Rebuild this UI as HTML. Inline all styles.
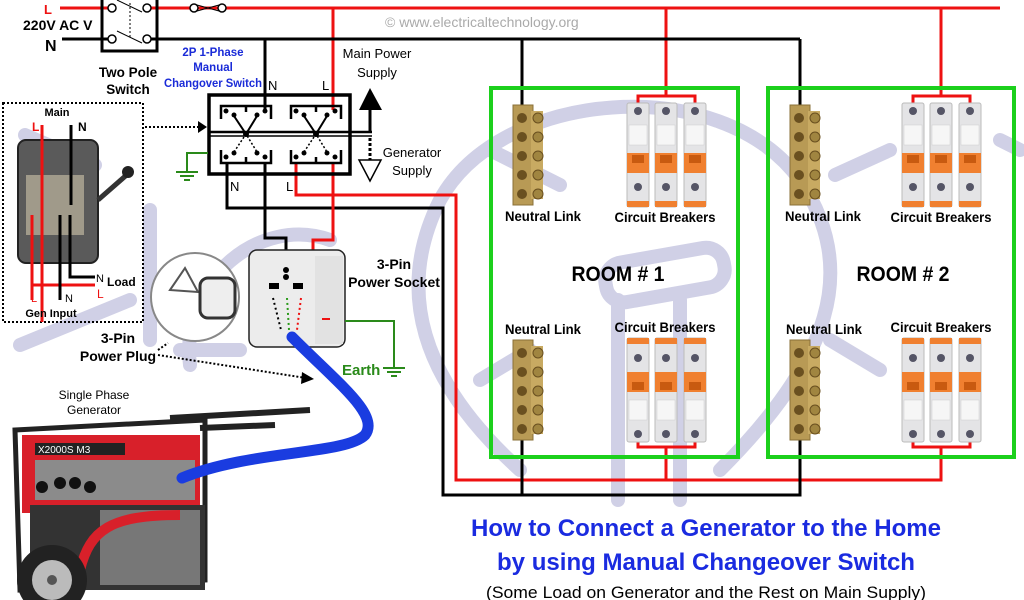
<!DOCTYPE html>
<html><head><meta charset="utf-8"><style>
html,body{margin:0;padding:0;background:#fff;}
svg{display:block;font-family:"Liberation Sans",Arial,sans-serif;}
</style></head><body>
<svg width="1024" height="600" viewBox="0 0 1024 600" xmlns="http://www.w3.org/2000/svg">
<defs>
<g id="brk">
 <rect x="-11" y="0" width="22" height="104" rx="2" fill="#e4e4e6" stroke="#bbb"/>
 <circle cx="0" cy="8" r="4" fill="#556"/>
 <rect x="-9" y="22" width="18" height="20" fill="#f6f6f6" stroke="#ccc" stroke-width="0.5"/>
 <rect x="-11" y="50" width="22" height="20" fill="#f08030"/>
 <rect x="-6" y="52" width="12" height="8" fill="#c85a10"/>
 <circle cx="0" cy="84" r="4" fill="#556"/>
 <rect x="-11" y="98" width="22" height="6" fill="#f08030"/>
</g>
<g id="nl">
 <rect x="0" y="0" width="20" height="100" fill="#b89a55" stroke="#8a7038"/>
 <rect x="18" y="6" width="12" height="88" fill="#c8aa62"/>
 <g fill="#6a5020"><circle cx="9" cy="13" r="5"/><circle cx="9" cy="32" r="5"/><circle cx="9" cy="51" r="5"/><circle cx="9" cy="70" r="5"/><circle cx="9" cy="89" r="5"/></g>
 <g fill="#a08540" stroke="#6a5020"><circle cx="25" cy="13" r="5"/><circle cx="25" cy="32" r="5"/><circle cx="25" cy="51" r="5"/><circle cx="25" cy="70" r="5"/><circle cx="25" cy="89" r="5"/></g>
</g>
</defs>

<!-- watermark -->
<g stroke="#d0d0e6" stroke-width="14" fill="none" stroke-linecap="round">
 <path d="M520 470 C420 380 395 290 440 200 C500 90 720 70 800 180 C860 270 830 360 720 470"/>
 <path d="M190 365 C180 280 260 215 330 240"/>
 <line x1="25" y1="135" x2="95" y2="165"/><line x1="20" y1="345" x2="130" y2="300"/>
 <line x1="490" y1="150" x2="560" y2="185"/><line x1="480" y1="380" x2="530" y2="350"/>
 <line x1="835" y1="175" x2="890" y2="150"/><line x1="830" y1="340" x2="880" y2="370"/>
 <line x1="1000" y1="140" x2="1020" y2="150"/>
 <rect x="605" y="255" width="120" height="40" rx="18" transform="rotate(-10 665 275)"/>
 <line x1="618" y1="300" x2="618" y2="500"/><line x1="680" y1="300" x2="680" y2="500"/>
 <line x1="150" y1="210" x2="150" y2="340"/><line x1="180" y1="350" x2="240" y2="350"/>
</g>

<text x="385" y="27" font-size="14" fill="#aaa">© www.electricaltechnology.org</text>

<!-- main lines -->
<g fill="none" stroke-width="3">
 <polyline points="60,8 112,8" stroke="#e11"/>
 <polyline points="147,8 1000,8" stroke="#e11"/>
 <line x1="333" y1="8" x2="333" y2="110" stroke="#e11"/>
 <line x1="666" y1="8" x2="666" y2="96" stroke="#e11"/>
 <line x1="941" y1="8" x2="941" y2="96" stroke="#e11"/>
 <line x1="62" y1="39" x2="112" y2="39" stroke="#000"/>
 <line x1="147" y1="39" x2="800" y2="39" stroke="#000"/>
 <line x1="265" y1="39" x2="265" y2="110" stroke="#000"/>
 <line x1="522" y1="39" x2="522" y2="105" stroke="#000"/>
 <line x1="800" y1="39" x2="800" y2="105" stroke="#000"/>
 <polyline points="638,104 638,96 695,96 695,104" stroke="#e11"/>
 <polyline points="913,104 913,96 970,96 970,104" stroke="#e11"/>
 <polyline points="638,440 638,447 695,447 695,440" stroke="#e11"/>
 <polyline points="913,440 913,447 970,447 970,440" stroke="#e11"/>
 <line x1="666" y1="447" x2="666" y2="480" stroke="#e11"/>
 <polyline points="296,163 296,195 456,195 456,480 941,480 941,447" stroke="#e11"/>
 <polyline points="227,163 227,208 443,208 443,495 800,495 800,440" stroke="#000"/>
 <line x1="522" y1="440" x2="522" y2="495" stroke="#000"/>
 <polyline points="265,163 265,238 286,238 286,252" stroke="#000"/>
 <polyline points="333,163 333,240 313,240 313,252" stroke="#e11"/>
</g>
<text x="44" y="14" font-size="13" font-weight="bold" fill="#e11">L</text>
<text x="23" y="30" font-size="14" font-weight="bold">220V AC V</text>
<text x="45" y="51" font-size="16" font-weight="bold">N</text>

<!-- two pole switch -->
<rect x="102" y="-2" width="55" height="53" fill="none" stroke="#000" stroke-width="3"/>
<g fill="#fff" stroke="#000" stroke-width="1.5">
 <circle cx="112" cy="8" r="4"/><circle cx="147" cy="8" r="4"/><circle cx="112" cy="39" r="4"/><circle cx="147" cy="39" r="4"/>
</g>
<line x1="117" y1="0" x2="142" y2="12" stroke="#000"/><line x1="117" y1="31" x2="142" y2="43" stroke="#000"/>
<line x1="130" y1="3" x2="130" y2="38" stroke="#000" stroke-dasharray="2,2"/>
<g fill="#fff" stroke="#000" stroke-width="1.5"><circle cx="194" cy="8" r="4"/><circle cx="222" cy="8" r="4"/></g>
<path d="M197 5 L219 11 M197 11 L219 5" stroke="#000" fill="none"/>
<text x="128" y="77" font-size="13.5" font-weight="bold" text-anchor="middle">Two Pole</text>
<text x="128" y="94" font-size="13.5" font-weight="bold" text-anchor="middle">Switch</text>

<g font-size="11.5" font-weight="bold" fill="#1a2bd8" text-anchor="middle">
 <text x="213" y="56">2P 1-Phase</text><text x="213" y="71">Manual</text><text x="213" y="87" textLength="98" lengthAdjust="spacingAndGlyphs">Changover Switch</text>
</g>
<text x="268" y="90" font-size="13">N</text><text x="322" y="90" font-size="13">L</text>
<text x="377" y="58" font-size="13" text-anchor="middle">Main Power</text>
<text x="377" y="77" font-size="13" text-anchor="middle">Supply</text>
<text x="412" y="157" font-size="13" text-anchor="middle">Generator</text>
<text x="412" y="175" font-size="13" text-anchor="middle">Supply</text>

<!-- changeover -->
<rect x="209" y="95" width="141" height="79" fill="none" stroke="#000" stroke-width="3.5"/>
<line x1="209" y1="132" x2="372" y2="132" stroke="#000" stroke-width="2.5"/>
<line x1="209" y1="136" x2="372" y2="136" stroke="#000" stroke-width="1.5"/>
<line x1="370" y1="132" x2="370" y2="108" stroke="#000" stroke-width="3"/>
<polygon points="359,110 370,88 382,110" fill="#000"/>
<line x1="370" y1="138" x2="370" y2="160" stroke="#000" stroke-width="3" stroke-dasharray="3,2"/>
<polygon points="359,160 381,160 370,181" fill="#fff" stroke="#000" stroke-width="1.5"/>
<g fill="none" stroke="#000" stroke-width="2.5">
 <polyline points="221,119 221,106 271,106 271,119"/><line x1="246" y1="106" x2="246" y2="112"/>
 <polyline points="221,150 221,163 271,163 271,150"/><line x1="246" y1="163" x2="246" y2="157"/>
 <polyline points="291,119 291,106 341,106 341,119"/><line x1="316" y1="106" x2="316" y2="112"/>
 <polyline points="291,150 291,163 341,163 341,150"/><line x1="316" y1="163" x2="316" y2="157"/>
</g>
<path d="M234 116 L246 134 L257 116 M304 116 L316 134 L327 116" stroke="#000" stroke-width="2" fill="none"/>
<path d="M234 152 L246 134 L257 152 M304 152 L316 134 L327 152" stroke="#000" stroke-width="1.5" stroke-dasharray="2,2" fill="none"/>
<g fill="#000"><circle cx="226" cy="111" r="2.5"/><circle cx="234" cy="115" r="2.5"/><circle cx="257" cy="115" r="2.5"/><circle cx="265" cy="111" r="2.5"/>
<circle cx="296" cy="111" r="2.5"/><circle cx="304" cy="115" r="2.5"/><circle cx="327" cy="115" r="2.5"/><circle cx="335" cy="111" r="2.5"/>
<circle cx="226" cy="157" r="2.5"/><circle cx="234" cy="153" r="2.5"/><circle cx="257" cy="153" r="2.5"/><circle cx="265" cy="157" r="2.5"/>
<circle cx="296" cy="157" r="2.5"/><circle cx="304" cy="153" r="2.5"/><circle cx="327" cy="153" r="2.5"/><circle cx="335" cy="157" r="2.5"/>
<circle cx="246" cy="134" r="3"/><circle cx="316" cy="134" r="3"/></g>
<text x="230" y="191" font-size="13">N</text><text x="286" y="191" font-size="13">L</text>
<polyline points="208,153 187,153 187,172" fill="none" stroke="#2a8a1a" stroke-width="2"/>
<g stroke="#2a8a1a" stroke-width="2"><line x1="176" y1="172" x2="198" y2="172"/><line x1="180" y1="176" x2="194" y2="176"/><line x1="184" y1="180" x2="190" y2="180"/></g>
<line x1="145" y1="127" x2="198" y2="127" stroke="#000" stroke-width="2" stroke-dasharray="2,2"/>
<polygon points="198,121 207,127 198,133" fill="#000"/>

<!-- dotted box with load switch -->
<rect x="3" y="103" width="140" height="219" fill="none" stroke="#000" stroke-width="2" stroke-dasharray="2,2"/>
<text x="57" y="116" font-size="11" font-weight="bold" text-anchor="middle">Main</text>
<text x="32" y="131" font-size="12" font-weight="bold" fill="#e11">L</text>
<text x="78" y="131" font-size="12" font-weight="bold">N</text>
<rect x="18" y="140" width="80" height="123" rx="8" fill="#5a5a5a" stroke="#222" stroke-width="2"/>
<rect x="26" y="175" width="58" height="60" fill="#a09a8a"/>
<line x1="98" y1="200" x2="130" y2="172" stroke="#333" stroke-width="5"/><circle cx="128" cy="172" r="6" fill="#222"/>
<g fill="none" stroke-width="3">
 <line x1="42" y1="125" x2="42" y2="322" stroke="#e11"/>
 <line x1="71" y1="125" x2="71" y2="205" stroke="#000"/>
 <line x1="32" y1="215" x2="32" y2="300" stroke="#e11"/>
 <polyline points="33,285 95,285" stroke="#e11"/>
 <polyline points="70,215 70,277 95,277" stroke="#000"/>
 <line x1="60" y1="215" x2="60" y2="300" stroke="#000"/>
</g>
<text x="96" y="282" font-size="11">N</text><text x="107" y="286" font-size="12" font-weight="bold">Load</text>
<text x="97" y="298" font-size="12" fill="#e11">L</text>
<text x="31" y="302" font-size="11" fill="#e11">L</text><text x="65" y="302" font-size="11">N</text>
<text x="51" y="317" font-size="11" font-weight="bold" text-anchor="middle">Gen Input</text>

<!-- plug -->
<circle cx="195" cy="297" r="44" fill="#fff" stroke="#888" stroke-width="2"/>
<path d="M170 290 L185 268 L198 292 Z" fill="none" stroke="#555" stroke-width="2"/>
<rect x="200" y="278" width="35" height="40" rx="8" fill="#eee" stroke="#333" stroke-width="3"/>
<text x="118" y="343" font-size="14" font-weight="bold" text-anchor="middle">3-Pin</text>
<text x="118" y="361" font-size="14" font-weight="bold" text-anchor="middle">Power Plug</text>
<line x1="158" y1="355" x2="306" y2="378" stroke="#000" stroke-width="2" stroke-dasharray="2,2"/>
<polygon points="302,372 314,379 301,384" fill="#000"/>
<line x1="158" y1="350" x2="168" y2="343" stroke="#000" stroke-width="2" stroke-dasharray="2,2"/>

<!-- socket -->
<rect x="249" y="250" width="96" height="97" rx="8" fill="#ececec" stroke="#222" stroke-width="1.5"/>
<rect x="315" y="256" width="28" height="88" fill="#e2e2e2"/>
<circle cx="286" cy="270" r="3" fill="#000"/><circle cx="286" cy="277" r="3" fill="#000"/>
<rect x="269" y="283" width="10" height="6" fill="#000"/><rect x="293" y="283" width="10" height="6" fill="#000"/>
<line x1="273" y1="298" x2="281" y2="330" stroke="#000" stroke-width="2" stroke-dasharray="2,3"/>
<line x1="287" y1="298" x2="289" y2="330" stroke="#2a9a1a" stroke-width="2" stroke-dasharray="2,3"/>
<line x1="301" y1="298" x2="297" y2="330" stroke="#e11" stroke-width="2" stroke-dasharray="2,3"/>
<line x1="322" y1="319" x2="330" y2="319" stroke="#e11" stroke-width="2"/>
<text x="394" y="269" font-size="14" font-weight="bold" text-anchor="middle">3-Pin</text>
<text x="394" y="287" font-size="14" font-weight="bold" text-anchor="middle">Power Socket</text>
<polyline points="345,321 394,321 394,368" fill="none" stroke="#2a8a1a" stroke-width="2"/>
<g stroke="#2a8a1a" stroke-width="2"><line x1="383" y1="368" x2="405" y2="368"/><line x1="387" y1="372" x2="401" y2="372"/><line x1="391" y1="376" x2="397" y2="376"/></g>
<text x="342" y="375" font-size="15" font-weight="bold" fill="#2a8a1a">Earth</text>

<!-- generator -->
<text x="94" y="399" font-size="12" text-anchor="middle">Single Phase</text>
<text x="94" y="414" font-size="12" text-anchor="middle">Generator</text>
<g>
 <path d="M15 430 L205 420 L205 580 L20 590 Z" fill="none" stroke="#222" stroke-width="5"/>
 <line x1="170" y1="418" x2="310" y2="410" stroke="#222" stroke-width="6"/>
 <line x1="200" y1="428" x2="275" y2="425" stroke="#222" stroke-width="6"/>
 <rect x="22" y="435" width="178" height="78" fill="#d8202a"/>
 <rect x="35" y="443" width="90" height="12" fill="#222"/>
 <text x="38" y="453" font-size="10" fill="#fff">X2000S M3</text>
 <rect x="35" y="460" width="160" height="40" fill="#8b8b8b"/>
 <g fill="#111"><circle cx="42" cy="487" r="6"/><circle cx="60" cy="483" r="6"/><circle cx="75" cy="483" r="6"/><circle cx="90" cy="487" r="6"/></g>
 <rect x="30" y="505" width="175" height="85" fill="#333"/>
 <rect x="100" y="510" width="100" height="75" fill="#777"/>
 <path d="M80 570 C90 530 110 515 180 515" stroke="#d8202a" stroke-width="10" fill="none"/>
 <circle cx="52" cy="580" r="35" fill="#222"/><circle cx="52" cy="580" r="20" fill="#bbb"/><circle cx="52" cy="580" r="5" fill="#555"/>
</g>
<path d="M292 337 C340 385 380 415 365 435 C345 455 250 450 182 478" fill="none" stroke="#1a3ce0" stroke-width="11" stroke-linecap="round"/>

<!-- rooms -->
<rect x="491" y="88" width="247" height="369" fill="none" stroke="#1cd01c" stroke-width="4"/>
<rect x="768" y="88" width="246" height="369" fill="none" stroke="#1cd01c" stroke-width="4"/>
<use href="#nl" x="513" y="105"/><use href="#nl" x="513" y="340"/>
<use href="#nl" x="790" y="105"/><use href="#nl" x="790" y="340"/>
<use href="#brk" x="638" y="103"/><use href="#brk" x="666" y="103"/><use href="#brk" x="695" y="103"/>
<use href="#brk" x="913" y="103"/><use href="#brk" x="941" y="103"/><use href="#brk" x="970" y="103"/>
<g transform="translate(0,545) scale(1,-1)">
<use href="#brk" x="638" y="103"/><use href="#brk" x="666" y="103"/><use href="#brk" x="695" y="103"/>
<use href="#brk" x="913" y="103"/><use href="#brk" x="941" y="103"/><use href="#brk" x="970" y="103"/>
</g>
<g font-size="14" font-weight="bold" text-anchor="middle">
 <text x="543" y="221" textLength="76" lengthAdjust="spacingAndGlyphs">Neutral Link</text><text x="665" y="222" textLength="101" lengthAdjust="spacingAndGlyphs">Circuit Breakers</text>
 <text x="823" y="221" textLength="76" lengthAdjust="spacingAndGlyphs">Neutral Link</text><text x="941" y="222" textLength="101" lengthAdjust="spacingAndGlyphs">Circuit Breakers</text>
 <text x="543" y="334" textLength="76" lengthAdjust="spacingAndGlyphs">Neutral Link</text><text x="665" y="332" textLength="101" lengthAdjust="spacingAndGlyphs">Circuit Breakers</text>
 <text x="824" y="334" textLength="76" lengthAdjust="spacingAndGlyphs">Neutral Link</text><text x="941" y="332" textLength="101" lengthAdjust="spacingAndGlyphs">Circuit Breakers</text>
 <text x="618" y="281" font-size="21" textLength="93" lengthAdjust="spacingAndGlyphs">ROOM # 1</text>
 <text x="903" y="281" font-size="21" textLength="93" lengthAdjust="spacingAndGlyphs">ROOM # 2</text>
</g>

<!-- title -->
<text x="706" y="536" font-size="24" font-weight="bold" fill="#1a2be0" text-anchor="middle" textLength="470" lengthAdjust="spacingAndGlyphs">How to Connect a Generator to the Home</text>
<text x="706" y="570" font-size="24" font-weight="bold" fill="#1a2be0" text-anchor="middle" textLength="418" lengthAdjust="spacingAndGlyphs">by using Manual Changeover Switch</text>
<text x="706" y="598" font-size="17" text-anchor="middle" textLength="440" lengthAdjust="spacingAndGlyphs">(Some Load on Generator and the Rest on Main Supply)</text>
</svg>
</body></html>
